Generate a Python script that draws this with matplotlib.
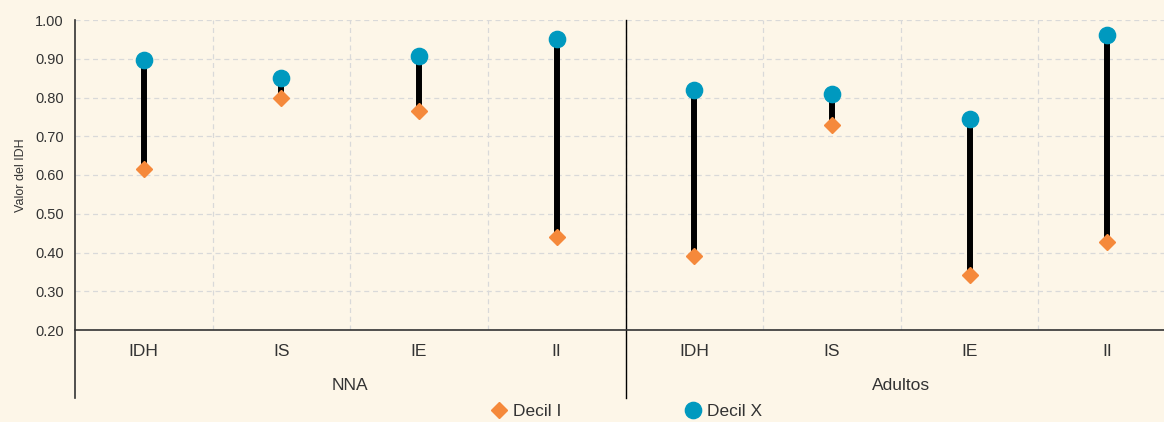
import numpy as np
import matplotlib.pyplot as plt
from matplotlib.lines import Line2D

plt.rcParams['font.family'] = ['Liberation Sans', 'DejaVu Sans']

groups = ["NNA", "Adultos"]
indices = ["IDH", "IS", "IE", "II"]
decil_1 = [0.615, 0.80, 0.764, 0.439, 0.390, 0.728, 0.341, 0.428]
decil_10 = [0.896, 0.851, 0.906, 0.951, 0.819, 0.808, 0.744, 0.961]

bg = '#FDF6E8'
orange = '#F5893B'
blue = '#0099BF'

fig = plt.figure(figsize=(11.64, 4.22), dpi=100, facecolor=bg)
ax = fig.add_axes([75/1164, 92/422, 1101/1164, 310/422], facecolor=bg)

x = np.arange(len(decil_1))
ax.vlines(x, decil_1, decil_10, color='black', lw=4.3, zorder=2)
ax.plot(x, decil_1, ls='', marker='D', ms=8, color=orange, zorder=3)
ax.plot(x, decil_10, ls='', marker='o', ms=11.7, color=blue, zorder=4)

ax.set_xlim(-0.5, 7.5)
ax.set_ylim(0.2, 1.0)
ax.set_yticks(np.arange(0.2, 1.01, 0.1))
ax.set_yticklabels([f"{v:.2f}" for v in np.arange(0.2, 1.01, 0.1)], fontsize=10.5, color='#333333')
ax.set_xticks(x)
ax.set_xticklabels(indices * 2, fontsize=12.5, color='#333333')
ax.set_xticks(np.arange(0.5, 7.5, 1), minor=True)
ax.tick_params(axis='both', which='both', length=0)
ax.tick_params(axis='x', pad=10)
ax.tick_params(axis='y', pad=8)

ax.grid(axis='y', which='major', color='#d9d9d9', ls=(0, (4, 3)), lw=0.9)
ax.grid(axis='x', which='minor', color='#d9d9d9', ls=(0, (4, 3)), lw=0.9)
ax.set_axisbelow(True)

for s in ['top', 'right', 'left']:
    ax.spines[s].set_visible(False)
ax.spines['bottom'].set_color('#333333')
ax.spines['bottom'].set_linewidth(1.2)

tr = ax.get_xaxis_transform()
ax.plot([-0.5, -0.5], [1.0, -0.219], color='#333333', lw=1.2, transform=tr, clip_on=False)
ax.plot([3.5, 3.5], [1.0, -0.219], color='black', lw=1.0, transform=tr, clip_on=False)
for i, g in enumerate(groups):
    ax.text(1.5 + 4 * i, -0.18, g, transform=tr, ha='center', va='center',
            fontsize=12.5, color='#333333')

ax.set_ylabel("Valor del IDH", fontsize=9, color='#333333', labelpad=6)

handles = [Line2D([], [], ls='', marker='D', ms=8, color=orange),
           Line2D([], [], ls='', marker='o', ms=11.7, color=blue)]
fig.legend(handles, ["Decil I", "Decil X"], loc='center', bbox_to_anchor=(0.537, 0.026),
           ncol=2, frameon=False, fontsize=12.5, columnspacing=7.0, handletextpad=0.2,
           handlelength=1.2, labelcolor='#333333')

fig.savefig("out.png", dpi=100, facecolor=bg)
